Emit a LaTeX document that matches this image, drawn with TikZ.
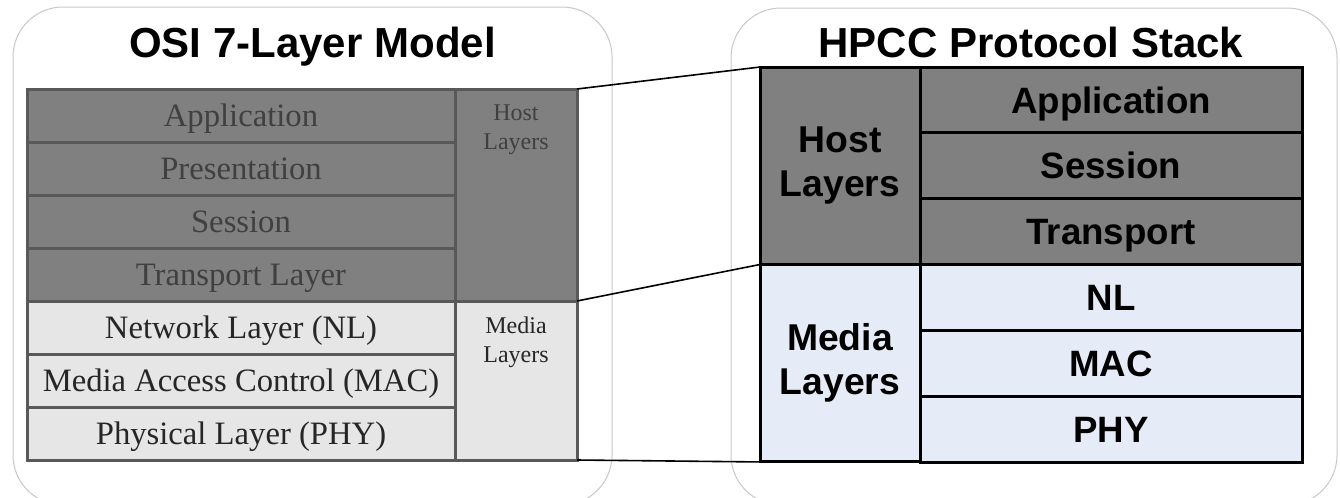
\documentclass[tikz,border=0pt]{standalone}
\usepackage{fontspec}
\setmainfont{Liberation Serif}
\newfontfamily\headfont{Liberation Sans}
\usetikzlibrary{positioning}

\definecolor{layerdark}{HTML}{808080}
\definecolor{layerlight}{HTML}{E6E6E6}
\definecolor{layerblue}{HTML}{E6ECF7}
\definecolor{osiedge}{HTML}{595959}
\definecolor{ositext}{HTML}{404040}
\definecolor{panelgray}{HTML}{C8C8C8}

\tikzset{
  panel/.style = { draw = panelgray, line width = .75pt, rounded corners = 37.5pt },
  title/.style = { font = \headfont\bfseries\fontsize{31.5}{38}\selectfont, anchor = base },
  osirow/.style = { draw = osiedge, line width = 2.25pt, minimum width = 321pt, minimum height = 39.75pt,
    inner sep = 0pt, outer sep = 0pt, font = \fontsize{24.5}{29}\selectfont, text height = 16.2pt, text depth = 0pt },
  osidark/.style = { osirow, fill = layerdark, text = ositext },
  osilight/.style = { osirow, fill = layerlight, text = black!85 },
  osiside/.style = { draw = osiedge, line width = 2.25pt, minimum width = 91.5pt, inner sep = 0pt, outer sep = 0pt, anchor = north west },
  sidetext/.style = { align = center, inner sep = 0pt, font = \fontsize{18}{21.75}\selectfont },
  hpccrow/.style = { draw, line width = 2.25pt, minimum width = 286.5pt, minimum height = 49.4pt, inner sep = 0pt, outer sep = 0pt,
    font = \headfont\bfseries\fontsize{27.5}{33}\selectfont, text height = 19.7pt, text depth = 0pt },
  hpccside/.style = { draw, line width = 2.25pt, minimum width = 120pt, minimum height = 148.1pt, inner sep = 0pt, outer sep = 0pt,
    align = center, font = \headfont\bfseries\fontsize{28}{33}\selectfont },
  link/.style = { line width = 1.2pt }
}

\begin{document}
\begin{tikzpicture}[x = .75pt, y = -.75pt]
    \useasboundingbox (0,0) rectangle (1340,497);
    \clip (0,0) rectangle (1340,497);

    \draw[panel] (13,7) rectangle (612,505);
    \draw[panel] (731,8) rectangle (1337,505);

    \node[title] (osititle) at (312.5,57) { OSI 7-Layer Model };
    \node[title] (hpcctitle) at (1031,57) { HPCC Protocol Stack };

    \node[osidark] (app) at (241,115.5) { Application };
    \node[osidark, below = 0pt of app] (pres) { Presentation };
    \node[osidark, below = 0pt of pres] (sess) { Session };
    \node[osidark, below = 0pt of sess] (trans) { Transport Layer };
    \node[osilight, below = 0pt of trans] (net) { Network Layer (NL) };
    \node[osilight, below = 0pt of net] (mac) { Media Access Control (MAC) };
    \node[osilight, below = 0pt of mac] (phy) { Physical Layer (PHY) };

    \node[osiside, fill = layerdark, minimum height = 159pt] (osihost) at (app.north east) {};
    \node[osiside, fill = layerlight, minimum height = 119.25pt] (osimedia) at (net.north east) {};
    \node[sidetext, text = ositext, below = 12pt of osihost.north] (osihostlabel) { Host \\ Layers };
    \node[sidetext, text = black!85, below = 12pt of osimedia.north] (osimedialabel) { Media \\ Layers };

    \node[hpccside, fill = layerdark] (hpcchost) at (840,165.75) { Host \\ Layers };
    \node[hpccside, fill = layerblue, below = 0pt of hpcchost] (hpccmedia) { Media \\ Layers };
    \node[hpccrow, fill = layerdark, anchor = north west] (happ) at (hpcchost.north east) { Application };
    \node[hpccrow, fill = layerdark, below = 0pt of happ] (hsess) { Session };
    \node[hpccrow, fill = layerdark, below = 0pt of hsess] (htrans) { Transport };
    \node[hpccrow, fill = layerblue, below = 0pt of htrans] (hnl) { NL };
    \node[hpccrow, fill = layerblue, below = 0pt of hnl] (hmac) { MAC };
    \node[hpccrow, fill = layerblue, below = 0pt of hmac] (hphy) { PHY };

    \draw[link] (osihost.north east) -- (hpcchost.north west);
    \draw[link] (osihost.south east) -- (hpccmedia.north west);
    \draw[link] (osimedia.south east) -- (hpccmedia.south west);
\end{tikzpicture}
\end{document}
